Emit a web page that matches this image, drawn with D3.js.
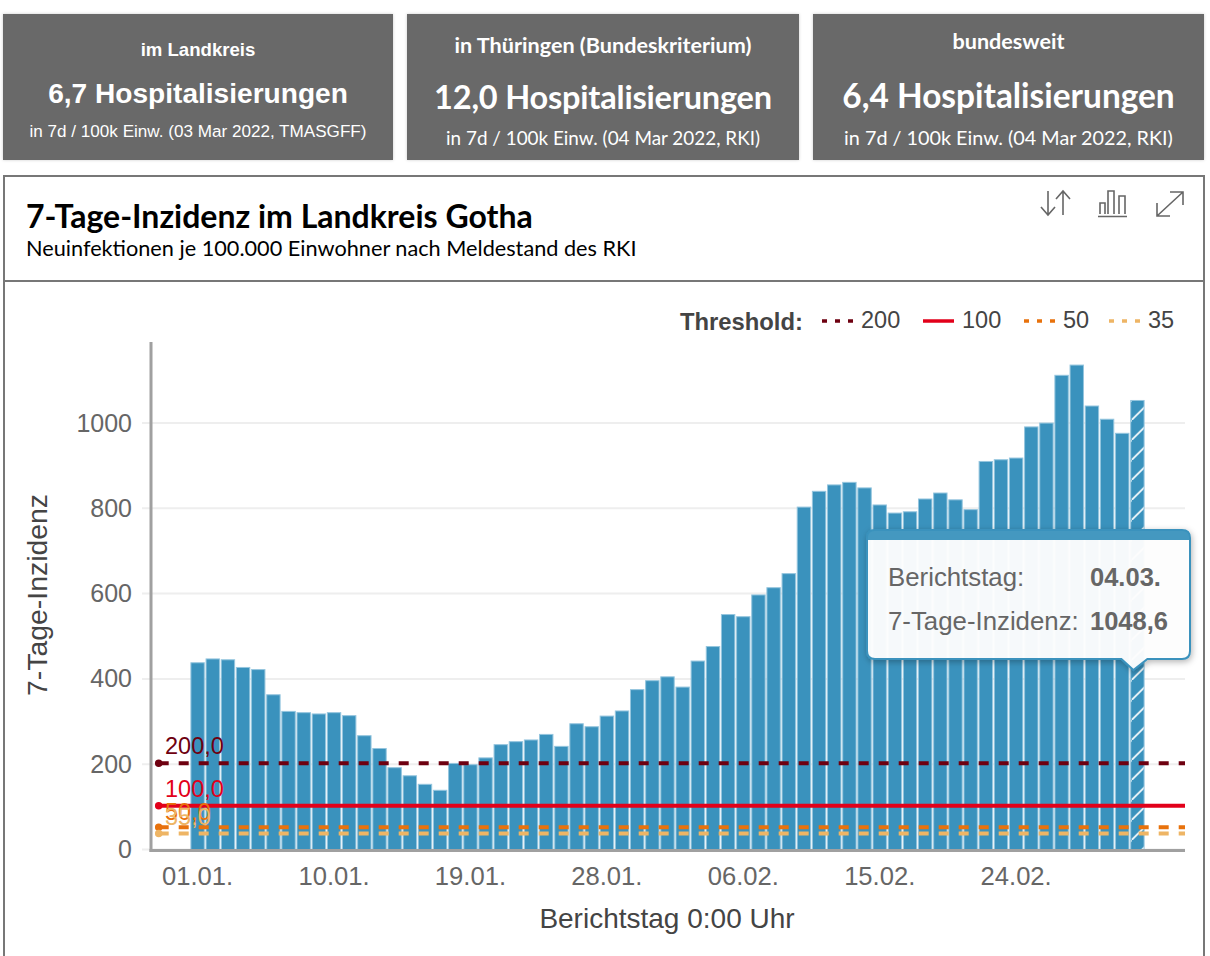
<!DOCTYPE html>
<html lang="de">

<head>
  <title>7-Tage-Inzidenz im Landkreis Gotha</title>
  <meta charset="UTF-8">
  <style>
    html, body { margin: 0; padding: 0; background: #fff; overflow: hidden; }
    svg { display: block; }
    text { font-family: "Liberation Sans", Arial, sans-serif; }
    .lato { font-family: Lato, sans-serif; }
    .axis path, .axis line { shape-rendering: crispEdges; }
  </style>
</head>

<body>
  <div id="chart"></div>
  <script src="https://cdn.jsdelivr.net/npm/d3@7"></script>
  <script>
    var days = [
      '01.01.', '02.01.', '03.01.', '04.01.', '05.01.', '06.01.', '07.01.', '08.01.', '09.01.', '10.01.',
      '11.01.', '12.01.', '13.01.', '14.01.', '15.01.', '16.01.', '17.01.', '18.01.', '19.01.', '20.01.',
      '21.01.', '22.01.', '23.01.', '24.01.', '25.01.', '26.01.', '27.01.', '28.01.', '29.01.', '30.01.',
      '31.01.', '01.02.', '02.02.', '03.02.', '04.02.', '05.02.', '06.02.', '07.02.', '08.02.', '09.02.',
      '10.02.', '11.02.', '12.02.', '13.02.', '14.02.', '15.02.', '16.02.', '17.02.', '18.02.', '19.02.',
      '20.02.', '21.02.', '22.02.', '23.02.', '24.02.', '25.02.', '26.02.', '27.02.', '28.02.', '01.03.',
      '02.03.', '03.03.', '04.03.'
    ];
    var incidence = [
      439, 448, 446, 428, 423, 364, 325, 322, 319, 322,
      315, 268, 238, 193, 174, 154, 140, 203, 200, 216,
      247, 254, 258, 271, 243, 296, 289, 314, 326, 376,
      397, 406, 382, 443, 477, 552, 547, 598, 615, 648,
      804, 841, 856, 862, 849, 809, 790, 793, 823, 837,
      821, 798, 911, 915, 919, 992, 1001, 1113, 1137, 1041,
      1010, 977, 1054
    ];
    var xTicks = ['01.01.', '10.01.', '19.01.', '28.01.', '06.02.', '15.02.', '24.02.'];
    var yTicks = [0, 200, 400, 600, 800, 1000];
    var thresholds = [200, 100, 50, 35];
    var thresholdColors = ['#6e0010', '#e2001a', '#e8720c', '#eeb565'];
    var cardHeads = ['im Landkreis', 'in Thüringen (Bundeskriterium)', 'bundesweit'];
    var cardValues = ['6,7 Hospitalisierungen', '12,0 Hospitalisierungen', '6,4 Hospitalisierungen'];
    var cardNotes = [
      'in 7d / 100k Einw. (03 Mar 2022, TMASGFF)',
      'in 7d / 100k Einw. (04 Mar 2022, RKI)',
      'in 7d / 100k Einw. (04 Mar 2022, RKI)'
    ];

    var svg = d3.select('#chart').append('svg')
      .attr('width', 1210)
      .attr('height', 956);
    var defs = svg.append('defs');

    // hatching of the last (still incomplete) day
    var hatch = defs.append('pattern')
      .attr('id', 'hatch')
      .attr('patternUnits', 'userSpaceOnUse')
      .attr('width', 20)
      .attr('height', 20)
      .attr('patternTransform', 'translate(11.7,0)');
    hatch.append('rect').attr('width', 20).attr('height', 20).attr('fill', '#3a92bd');
    hatch.append('path').attr('d', 'M-2 22L22 -2').attr('stroke', '#fff').attr('stroke-width', 1.6);

    var shadow = defs.append('filter').attr('id', 'shadow')
      .attr('x', '-10%').attr('y', '-10%').attr('width', '125%').attr('height', '130%');
    shadow.append('feDropShadow').attr('dx', 1).attr('dy', 2).attr('stdDeviation', 3)
      .attr('flood-color', '#000').attr('flood-opacity', 0.3);

    var cardShadow = defs.append('filter').attr('id', 'cardShadow')
      .attr('x', '-5%').attr('y', '-10%').attr('width', '110%').attr('height', '120%');
    cardShadow.append('feDropShadow').attr('dx', 0).attr('dy', 0).attr('stdDeviation', 1.5)
      .attr('flood-color', '#000').attr('flood-opacity', 0.2);

    // top cards
    var cardBox = [
      { x: 3, w: 390, cls: '', head: 18.6, value: 28.1, note: 17.1, yh: 56, yv: 103, yn: 137, ls: 0 },
      { x: 407, w: 392, cls: 'lato', head: 21.6, value: 32.5, note: 18.9, yh: 53, yv: 109, yn: 145, ls: -0.2 },
      { x: 813, w: 391, cls: 'lato', head: 21.6, value: 33.4, note: 19.8, yh: 49, yv: 108, yn: 145, ls: 0 }
    ];
    cardBox.forEach(function (c, i) {
      var g = svg.append('g');
      g.append('rect')
        .attr('x', c.x).attr('y', 14).attr('width', c.w).attr('height', 146)
        .attr('fill', '#696969').attr('filter', 'url(#cardShadow)');
      var cx = c.x + c.w / 2;
      g.append('text').attr('class', c.cls).attr('x', cx).attr('y', c.yh)
        .attr('text-anchor', 'middle').attr('fill', '#fff').attr('font-weight', 700)
        .attr('font-size', c.head).text(cardHeads[i]);
      g.append('text').attr('class', c.cls).attr('x', cx).attr('y', c.yv)
        .attr('text-anchor', 'middle').attr('fill', '#fff').attr('font-weight', 700)
        .attr('letter-spacing', c.ls)
        .attr('font-size', c.value).text(cardValues[i]);
      g.append('text').attr('class', c.cls).attr('x', cx).attr('y', c.yn)
        .attr('text-anchor', 'middle').attr('fill', '#fff')
        .attr('font-size', c.note).text(cardNotes[i]);
    });

    // frame and header
    svg.append('path')
      .attr('d', 'M4 970V176H1204V970M4 281H1204')
      .attr('fill', 'none').attr('stroke', '#777').attr('stroke-width', 2);
    svg.append('text').attr('class', 'lato').attr('x', 26).attr('y', 228)
      .attr('font-size', 32).attr('font-weight', 700).attr('fill', '#000')
      .text('7-Tage-Inzidenz im Landkreis Gotha');
    svg.append('text').attr('class', 'lato').attr('x', 26).attr('y', 255.5)
      .attr('font-size', 21.7).attr('fill', '#000')
      .text('Neuinfektionen je 100.000 Einwohner nach Meldestand des RKI');

    // header icons
    var icons = svg.append('g').attr('fill', 'none').attr('stroke', '#666').attr('stroke-width', 1.6);
    icons.append('path').attr('d', 'M1048 191V215M1041 207L1048 215L1055 207M1063 215V191M1056 199L1063 191L1070 199');
    icons.append('path').attr('d', 'M1098 216.5H1127M1100 214V203H1105V214M1108 214V191H1114V214M1119 214V196H1125V214');
    icons.append('path').attr('d', 'M1157 216L1183 192M1170 192H1183V205M1157 203V216H1170');

    // chart
    var margin = { left: 151, right: 1185, top: 342, bottom: 849.5 };
    var x = d3.scaleBand()
      .domain(days)
      .range([margin.left, margin.right - 1])
      .paddingInner(0.05)
      .paddingOuter(2.6);
    var y = d3.scaleLinear()
      .domain([0, 1000])
      .range([margin.bottom, 423]);

    // grid
    svg.append('g')
      .selectAll('line')
      .data(yTicks)
      .join('line')
      .attr('x1', 142)
      .attr('x2', margin.right)
      .attr('y1', function (d) { return y(d); })
      .attr('y2', function (d) { return y(d); })
      .attr('stroke', '#eee')
      .attr('stroke-width', 2);

    // bars
    svg.append('g')
      .selectAll('rect')
      .data(incidence)
      .join('rect')
      .attr('x', function (d, i) { return x(days[i]) + 0.5; })
      .attr('y', function (d) { return y(d) + 0.5; })
      .attr('width', x.bandwidth() - 1)
      .attr('height', function (d) { return y(0) - y(d) - 0.5; })
      .attr('fill', function (d, i) { return i === days.length - 1 ? 'url(#hatch)' : '#3a92bd'; })
      .attr('stroke', '#94c5de')
      .attr('stroke-width', 1);

    // axes
    var yAxis = svg.append('g')
      .attr('class', 'axis')
      .attr('transform', 'translate(' + margin.left + ',0)')
      .call(d3.axisLeft(y).tickValues(yTicks).tickFormat(d3.format('d')).tickSize(0).tickPadding(19));
    yAxis.select('.domain').remove();
    yAxis.selectAll('text').attr('font-size', 25).attr('fill', '#666').attr('font-family', '"Liberation Sans"');
    svg.append('line')
      .attr('x1', margin.left).attr('x2', margin.left)
      .attr('y1', margin.top).attr('y2', 852)
      .attr('stroke', '#a0a0a0').attr('stroke-width', 3);

    var xAxis = svg.append('g')
      .attr('class', 'axis')
      .attr('transform', 'translate(0,' + margin.bottom + ')')
      .call(d3.axisBottom(x).tickValues(xTicks).tickSize(0).tickPadding(17));
    xAxis.select('.domain').remove();
    xAxis.selectAll('text').attr('font-size', 25.6).attr('fill', '#666').attr('font-family', '"Liberation Sans"');
    svg.append('line')
      .attr('x1', margin.left - 1.5).attr('x2', margin.right)
      .attr('y1', margin.bottom + 1).attr('y2', margin.bottom + 1)
      .attr('stroke', '#a0a0a0').attr('stroke-width', 3);

    svg.append('text')
      .attr('x', 667).attr('y', 928)
      .attr('text-anchor', 'middle').attr('font-size', 28).attr('fill', '#444')
      .text('Berichtstag 0:00 Uhr');
    svg.append('text')
      .attr('transform', 'translate(47,595) rotate(-90)')
      .attr('text-anchor', 'middle').attr('font-size', 28.4).attr('fill', '#444')
      .text('7-Tage-Inzidenz');

    // threshold lines
    var labelOffsets = [-9, -9, -7, -9];
    thresholds.forEach(function (t, i) {
      var g = svg.append('g');
      g.append('line')
        .attr('x1', 158.7).attr('x2', margin.right)
        .attr('y1', y(t) - 1).attr('y2', y(t) - 1)
        .attr('stroke', thresholdColors[i])
        .attr('stroke-width', 4)
        .attr('stroke-dasharray', t === 100 ? null : '10,10');
      g.append('circle')
        .attr('cx', 158.7).attr('cy', y(t) - 1).attr('r', 3)
        .attr('fill', thresholdColors[i])
        .attr('stroke', thresholdColors[i]).attr('stroke-width', 1.5);
      g.append('text')
        .attr('x', 165).attr('y', y(t) - 1 + labelOffsets[i])
        .attr('font-size', 23.5)
        .attr('fill', thresholdColors[i])
        .text(d3.format('.1f')(t).replace('.', ','));
    });

    // legend
    var legend = svg.append('g');
    legend.append('text').attr('x', 680).attr('y', 330)
      .attr('font-size', 23.8).attr('font-weight', 700).attr('fill', '#444')
      .text('Threshold:');
    var legendX = [822, 923, 1024, 1109];
    thresholds.forEach(function (t, i) {
      legend.append('line')
        .attr('x1', legendX[i]).attr('x2', legendX[i] + 31)
        .attr('y1', 321).attr('y2', 321)
        .attr('stroke', thresholdColors[i]).attr('stroke-width', 3.5)
        .attr('stroke-dasharray', t === 100 ? null : '5,8');
      legend.append('text')
        .attr('x', legendX[i] + 39).attr('y', 328)
        .attr('font-size', 23.5).attr('fill', '#444')
        .text(t);
    });

    // tooltip for the last day
    var lastX = x(days[days.length - 1]) + x.bandwidth() / 2 - 4;
    var tip = svg.append('g');
    tip.append('path')
      .attr('d', 'M875 530H1182Q1190 530 1190 538V651Q1190 659 1182 659H' + (lastX + 14) + 'L' + lastX + ' 670L' + (lastX - 12) + ' 659H875Q867 659 867 651V538Q867 530 875 530Z')
      .attr('fill', 'rgba(255,255,255,0.95)')
      .attr('stroke', '#3a92bd')
      .attr('stroke-width', 2)
      .attr('filter', 'url(#shadow)');
    tip.append('path')
      .attr('d', 'M875 530H1182Q1190 530 1190 538V540H867V538Q867 530 875 530Z')
      .attr('fill', '#3a92bd')
      .attr('opacity', 0.95);
    var tipRows = [['Berichtstag:', '04.03.'], ['7-Tage-Inzidenz:', '1048,6']];
    tipRows.forEach(function (row, i) {
      tip.append('text').attr('x', 888).attr('y', 586 + i * 44)
        .attr('font-size', 25.8).attr('fill', '#666').text(row[0]);
      tip.append('text').attr('x', 1090).attr('y', 586 + i * 44)
        .attr('font-size', 25.5).attr('font-weight', 700).attr('fill', '#666').text(row[1]);
    });
  </script>
</body>

</html>
